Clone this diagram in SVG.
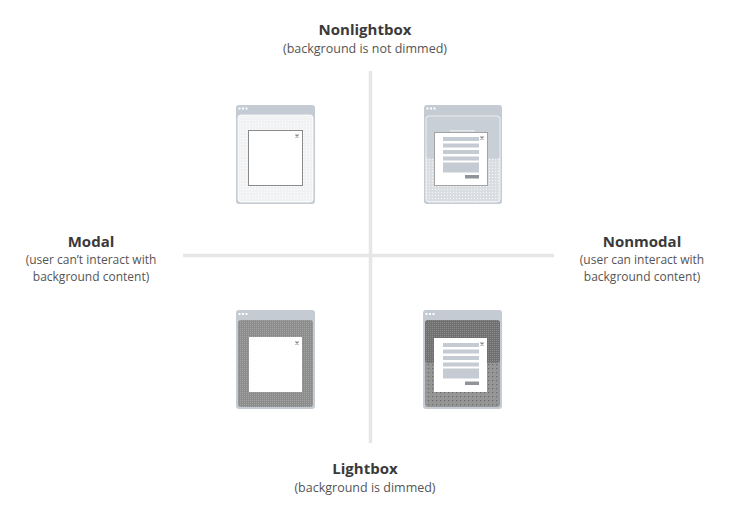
<svg xmlns="http://www.w3.org/2000/svg" width="730" height="516" viewBox="0 0 730 516">
<style>
.t{font-family:"Open Sans","Liberation Sans",sans-serif;font-weight:700;font-size:15px;fill:#3a3a3a;text-anchor:middle}
.s{font-family:"Open Sans","Liberation Sans",sans-serif;font-size:12.5px;fill:#555;text-anchor:middle}
.s2{font-family:"Open Sans","Liberation Sans",sans-serif;font-size:12px;fill:#555;text-anchor:middle}
.frame{fill:#c4cbd2}
.tb{fill:#ffffff}
.dlg{fill:#ffffff;stroke:#8a8a8a;stroke-width:1}
.dlg2{fill:#ffffff;stroke:#a3a3a3;stroke-width:1}
.row{fill:#c4cbd2}
.btn{fill:#8f949a}
.cls{stroke:#8a8a8a;stroke-width:1.3;fill:none}
.axis{stroke:#e6e6e6;stroke-width:3.5}
</style>
<defs>
<pattern id="pLight" width="3" height="3" patternUnits="userSpaceOnUse"><rect width="3" height="3" fill="#f1f2f4"/><rect width="1" height="1" fill="#ffffff"/></pattern>
<pattern id="pMid" width="3" height="3" patternUnits="userSpaceOnUse"><rect width="3" height="3" fill="#dadde1"/><rect width="1" height="1" fill="#f4f5f6"/></pattern>
<pattern id="pDark" width="2" height="2" patternUnits="userSpaceOnUse"><rect width="2" height="2" fill="#8c8c8c"/><rect width="1" height="1" fill="#a4a4a4"/></pattern>
<pattern id="pDarker" width="2" height="2" patternUnits="userSpaceOnUse"><rect width="2" height="2" fill="#707070"/><rect width="1" height="1" fill="#8c8c8c"/></pattern>
<pattern id="pDarkLow" width="4" height="4" patternUnits="userSpaceOnUse"><rect width="4" height="4" fill="#969696"/><rect width="1.2" height="1.2" fill="#6a6a6a"/></pattern>
</defs>

<g id="connectors">
<line class="axis" x1="370.5" y1="71" x2="370.5" y2="443"/>
<line class="axis" x1="183" y1="255.5" x2="554" y2="255.5"/>
</g>

<g id="label-nonlightbox">
<text class="t" x="365" y="35">Nonlightbox</text>
<text class="s" x="365" y="53">(background is not dimmed)</text>
</g>
<g id="label-lightbox">
<text class="t" x="365" y="474">Lightbox</text>
<text class="s" x="365" y="492">(background is dimmed)</text>
</g>
<g id="label-modal">
<text class="t" x="91" y="247">Modal</text>
<text class="s2" x="91" y="264">(user can’t interact with</text>
<text class="s2" x="91" y="281">background content)</text>
</g>
<g id="label-nonmodal">
<text class="t" x="642" y="247">Nonmodal</text>
<text class="s2" x="642" y="264">(user can interact with</text>
<text class="s2" x="642" y="281">background content)</text>
</g>

<g id="icon-modal-nonlightbox">
<rect class="frame" x="236" y="105" width="79" height="99" rx="3"/>
<rect class="tb" x="238.5" y="107.5" width="2" height="2"/><rect class="tb" x="242" y="107.5" width="2" height="2"/><rect class="tb" x="245.5" y="107.5" width="2" height="2"/>
<rect x="238" y="115" width="75" height="87" rx="3" fill="url(#pLight)" stroke="#ffffff" stroke-width="0.8"/>
<rect class="dlg" x="248.5" y="130.5" width="54" height="55"/>
<path class="cls" d="M295.5 134.5l3 3M298.5 134.5l-3 3"/>
</g>

<g id="icon-nonmodal-nonlightbox">
<rect class="frame" x="424" y="105" width="78" height="99" rx="3"/>
<rect class="tb" x="426.5" y="107.5" width="2" height="2"/><rect class="tb" x="430" y="107.5" width="2" height="2"/><rect class="tb" x="433.5" y="107.5" width="2" height="2"/>
<rect x="426" y="116" width="74" height="86" rx="3" fill="url(#pMid)" stroke="#ffffff" stroke-width="0.8"/>
<rect x="426.5" y="116.5" width="73" height="42" rx="2.5" fill="#c8cfd6"/>
<rect x="450" y="130" width="25" height="1.5" fill="#e4e8ec"/>
<rect class="dlg2" x="434.5" y="132.5" width="53" height="53"/>
<rect class="row" x="443" y="137" width="36" height="4"/>
<rect class="row" x="443" y="143.5" width="36" height="4"/>
<rect class="row" x="443" y="150" width="36" height="4"/>
<rect class="row" x="443" y="156.5" width="36" height="4"/>
<rect class="row" x="443" y="162.5" width="36" height="10"/>
<rect class="btn" x="465" y="175" width="14" height="3.5"/>
<path class="cls" d="M480.5 136.5l3 3M483.5 136.5l-3 3"/>
</g>

<g id="icon-modal-lightbox">
<rect class="frame" x="236" y="310" width="79" height="99" rx="3"/>
<rect class="tb" x="238.5" y="313" width="2" height="2"/><rect class="tb" x="242" y="313" width="2" height="2"/><rect class="tb" x="245.5" y="313" width="2" height="2"/>
<rect x="238" y="320" width="75" height="87" rx="3" fill="url(#pDark)"/>
<rect x="249" y="337" width="53" height="55" fill="#ffffff"/>
<path class="cls" d="M295.5 341.5l3 3M298.5 341.5l-3 3"/>
</g>

<g id="icon-nonmodal-lightbox">
<rect class="frame" x="423" y="310" width="79" height="99" rx="3"/>
<rect class="tb" x="425.5" y="313" width="2" height="2"/><rect class="tb" x="429" y="313" width="2" height="2"/><rect class="tb" x="432.5" y="313" width="2" height="2"/>
<rect x="425" y="320" width="75" height="87" rx="3" fill="url(#pDarkLow)"/>
<rect x="425" y="320" width="75" height="43" rx="3" fill="url(#pDarker)"/>
<rect x="434" y="338" width="53" height="54" fill="#ffffff"/>
<rect class="row" x="443" y="343" width="36" height="4"/>
<rect class="row" x="443" y="349.5" width="36" height="4"/>
<rect class="row" x="443" y="356" width="36" height="4"/>
<rect class="row" x="443" y="362.5" width="36" height="4"/>
<rect class="row" x="443" y="368.5" width="36" height="10"/>
<rect class="btn" x="465" y="381.5" width="14" height="3.5"/>
<path class="cls" d="M480.5 342.5l3 3M483.5 342.5l-3 3"/>
</g>
</svg>
